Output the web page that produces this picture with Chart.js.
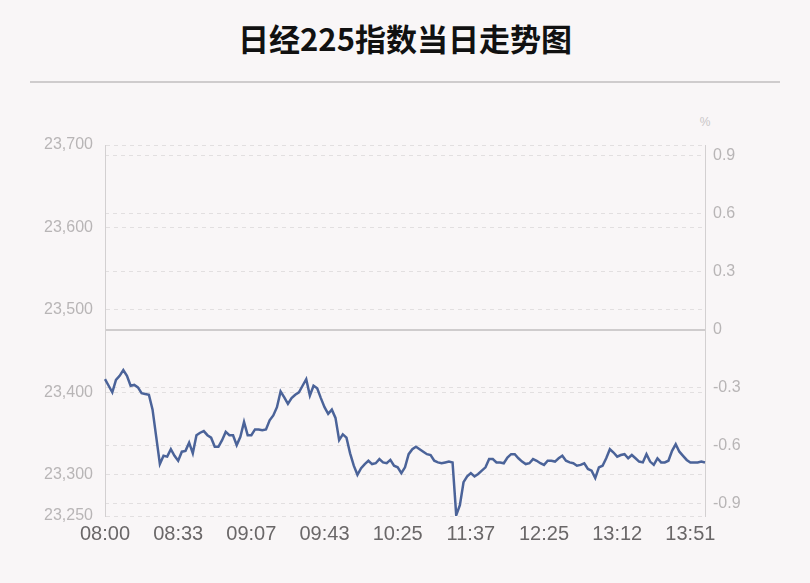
<!DOCTYPE html>
<html>
<head>
    <meta charset="utf-8">
    <title>日经225指数当日走势图</title>
    <style>
        body { margin: 0; background: #f9f6f7; }
        #wrap { position: relative; width: 810px; height: 583px; }
        #title { position: absolute; left: 0; top: 16px; width: 810px; text-align: center;
                 font: bold 31px "Noto Sans CJK SC", sans-serif; color: #111; line-height: 44px; }
        #rule { position: absolute; left: 30px; top: 81px; width: 750px; height: 2px; background: #cfcccd; }
        #pct { position: absolute; left: 695px; top: 115px; width: 20px; text-align: center;
               font: 12px "Liberation Sans", sans-serif; color: #c9c6c7; }
        canvas { position: absolute; left: 0; top: 0; }
    </style>
</head>
<body>
<div id="wrap">
    <div id="title">日经225指数当日走势图</div>
    <div id="rule"></div>
    <div id="pct">%</div>
    <canvas id="myChart" width="810" height="583"></canvas>
</div>
<script src="https://cdn.jsdelivr.net/npm/chart.js"></script>
<script>
    // tick labels shown under the axis, one every 20 points
    const timeTicks = ['08:00', '08:33', '09:07', '09:43', '10:25', '11:37', '12:25', '13:12', '13:51'];
    const tickEvery = 20;

    // index level through the day
    const prices = [
        23416, 23408, 23400, 23415, 23420, 23427, 23420, 23408, 23409, 23406,
        23399, 23398, 23397, 23379, 23346, 23313, 23323, 23322, 23331, 23323,
        23317, 23328, 23329, 23339, 23326, 23348, 23351, 23353, 23348, 23345,
        23334, 23334, 23342, 23352, 23348, 23348, 23336, 23346, 23364, 23348,
        23348, 23355, 23355, 23354, 23355, 23366, 23372, 23382, 23401, 23394,
        23386, 23393, 23397, 23400, 23408, 23416, 23396, 23408, 23405, 23393,
        23382, 23374, 23379, 23369, 23342, 23349, 23345, 23326, 23311, 23300,
        23308, 23313, 23317, 23313, 23314, 23319, 23315, 23314, 23318, 23311,
        23309, 23302, 23309, 23325, 23331, 23334, 23331, 23328, 23325, 23324,
        23317, 23315, 23314, 23315, 23316, 23315, 23251, 23263, 23291, 23298,
        23302, 23298, 23301, 23305, 23309, 23319, 23319, 23315, 23315, 23314,
        23321, 23325, 23325, 23320, 23316, 23313, 23314, 23319, 23317, 23314,
        23312, 23317, 23317, 23316, 23320, 23323, 23317, 23315, 23314, 23311,
        23312, 23314, 23307, 23305, 23296, 23309, 23311, 23320, 23331, 23327,
        23322, 23324, 23325, 23320, 23324, 23320, 23316, 23315, 23325, 23316,
        23312, 23320, 23315, 23315, 23317, 23329, 23337, 23328, 23323, 23318,
        23315, 23315, 23315, 23316, 23315
    ];

    const prevClose = 23476;
    const priceTicks = [23250, 23300, 23400, 23500, 23600, 23700];
    const pctTicks = [0.9, 0.6, 0.3, 0, -0.3, -0.6, -0.9];
    const priceMin = 23250;
    const priceMax = 23700;

    const labels = prices.map((_, i) => i);
    const gridColor = '#e2dfe0';
    const axisColor = '#d3d0d1';
    const sideTickColor = '#b8b5b6';

    new Chart(document.getElementById('myChart'), {
        type: 'line',
        data: {
            labels: labels,
            datasets: [{
                label: '日经225',
                data: prices,
                borderColor: '#4b6399',
                borderWidth: 2.5,
                pointRadius: 0,
                tension: 0,
                yAxisID: 'y'
            }]
        },
        options: {
            responsive: false,
            animation: false,
            layout: { padding: { top: 145, left: 0, right: 0, bottom: 0 } },
            plugins: { legend: { display: false }, tooltip: { enabled: false } },
            scales: {
                x: {
                    type: 'category',
                    grid: { display: false, drawTicks: false },
                    border: { display: false },
                    ticks: {
                        autoSkip: false,
                        maxRotation: 0,
                        padding: 6,
                        color: '#6a6768',
                        font: { family: 'Liberation Sans', size: 20 },
                        callback: (v, i) => i % tickEvery === 0 ? timeTicks[i / tickEvery] : null
                    },
                    afterFit: s => { s.height = 67; }
                },
                y: {
                    position: 'left',
                    min: priceMin,
                    max: priceMax,
                    afterBuildTicks: s => { s.ticks = priceTicks.map(v => ({ value: v })); },
                    grid: { color: gridColor, lineWidth: 1, drawTicks: false },
                    border: { display: true, color: axisColor, width: 1, dash: [4, 4] },
                    ticks: {
                        padding: 12,
                        color: sideTickColor,
                        font: { family: 'Liberation Sans', size: 16 },
                        callback: v => v.toLocaleString('en-US')
                    },
                    afterFit: s => { s.width = 105; }
                },
                y1: {
                    position: 'right',
                    min: (priceMin / prevClose - 1) * 100,
                    max: (priceMax / prevClose - 1) * 100,
                    afterBuildTicks: s => { s.ticks = pctTicks.map(v => ({ value: v })); },
                    grid: {
                        drawTicks: false,
                        color: c => c.tick && c.tick.value === 0 ? '#cfcccd' : gridColor,
                        lineWidth: c => c.tick && c.tick.value === 0 ? 2 : 1
                    },
                    border: {
                        display: true, color: axisColor, width: 1,
                        dash: c => c.tick && c.tick.value === 0 ? [] : [4, 4]
                    },
                    ticks: {
                        padding: 8,
                        color: sideTickColor,
                        font: { family: 'Liberation Sans', size: 16 },
                        callback: v => v === 0 ? '0' : v.toFixed(1)
                    },
                    afterFit: s => { s.width = 105; }
                }
            }
        }
    });
</script>
</body>
</html>
